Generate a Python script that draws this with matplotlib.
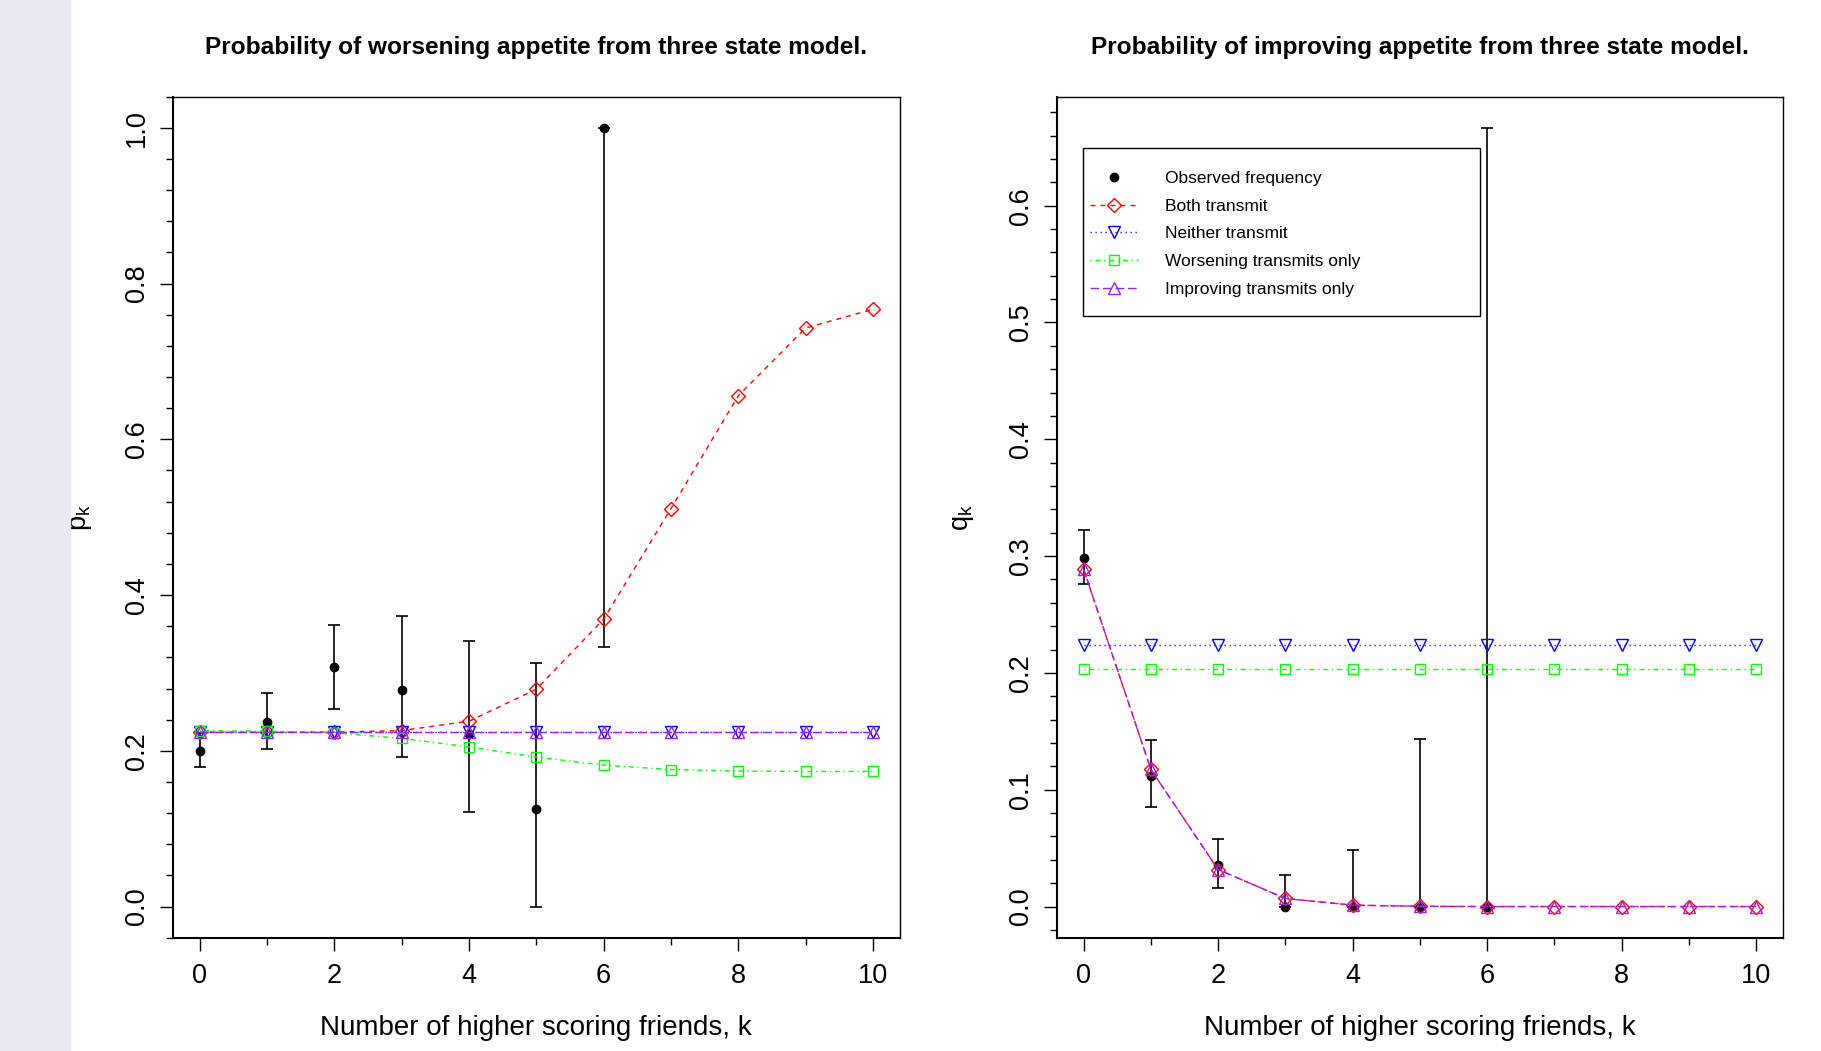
import matplotlib
matplotlib.use('Agg')
import matplotlib.pyplot as plt
import numpy as np
from matplotlib.patches import Rectangle
from matplotlib.ticker import MultipleLocator, FormatStrFormatter

plt.rcParams['font.family'] = ['Liberation Sans', 'DejaVu Sans']
plt.rcParams['mathtext.fontset'] = 'custom'
plt.rcParams['mathtext.rm'] = 'Liberation Sans'

# number of higher scoring friends
k_all = np.arange(0, 11)
k_obs = np.arange(0, 7)

# worsening appetite (left panel)
p_obs = [0.200, 0.2375, 0.307, 0.278, 0.222, 0.125, 1.000]
p_lo = [0.179, 0.202, 0.254, 0.192, 0.121, 0.0, 0.333]
p_hi = [0.223, 0.274, 0.361, 0.373, 0.341, 0.313, 1.000]
p_both = [0.224, 0.224, 0.224, 0.226, 0.238, 0.279, 0.369, 0.511, 0.656, 0.743, 0.767]
p_neither = [0.2245] * 11
p_worse = [0.226, 0.225, 0.223, 0.216, 0.205, 0.192, 0.1816, 0.176, 0.174, 0.1735, 0.1735]
p_improve = [0.2245] * 11

# improving appetite (right panel)
q_obs = [0.2985, 0.1117, 0.0354, 0.0, 0.0, 0.0, 0.0]
q_lo = [0.276, 0.0848, 0.0157, 0.0, 0.0, 0.0, 0.0]
q_hi = [0.3225, 0.1425, 0.0577, 0.0266, 0.0488, 0.1437, 0.6667]
q_both = [0.2888, 0.1174, 0.0317, 0.0069, 0.0012, 0.0002, 0.0, 0.0, 0.0, 0.0, 0.0]
q_neither = [0.2239] * 11
q_worse = [0.2037] * 11
q_improve = [0.2888, 0.1174, 0.0317, 0.0069, 0.0012, 0.0002, 0.0, 0.0, 0.0, 0.0, 0.0]

labels = ['Observed frequency', 'Both transmit', 'Neither transmit',
          'Worsening transmits only', 'Improving transmits only']

TICK_FS = 19.5
LABEL_FS = 20
TITLE_FS = 17.6


def draw_panel(ax, obs, lo, hi, both, neither, worse, improve):
    """
    Draws observed frequencies with error bars and the four model curves.
    """
    obs = np.array(obs)
    err = [obs - np.array(lo), np.array(hi) - obs]
    ax.errorbar(k_obs, obs, yerr=err, fmt='none', ecolor='black',
                elinewidth=1.2, capsize=4.2, capthick=1.2, zorder=2)
    h = []
    h += ax.plot(k_obs, obs, 'o', color='black', ms=6, ls='none', zorder=3)
    h += ax.plot(k_all, both, color='red', ls=(0, (3.6, 3.6)), lw=1,
                 marker='D', ms=7.3, mfc='none', mec='red', mew=1, zorder=4)
    h += ax.plot(k_all, neither, color='blue', ls=(0, (0.9, 2.7)), lw=1,
                 marker='v', ms=8.6, mfc='none', mec='blue', mew=1, zorder=5)
    h += ax.plot(k_all, worse, color='#00FF00', ls=(0, (0.9, 2.7, 3.6, 2.7)), lw=1,
                 marker='s', ms=7, mfc='none', mec='#00FF00', mew=1, zorder=6)
    h += ax.plot(k_all, improve, color='#A020F0', ls=(0, (6.3, 2.7)), lw=1,
                 marker='^', ms=8.6, mfc='none', mec='#A020F0', mew=1, zorder=7)
    return h


def style_axes(ax, ylim, ymajor, yminor, ylabel, title, ylabel_x):
    """
    R-like box, outward ticks and rotated y tick labels.
    """
    ax.set_xlim(-0.4, 10.4)
    ax.set_ylim(*ylim)
    ax.xaxis.set_major_locator(MultipleLocator(2))
    ax.xaxis.set_minor_locator(MultipleLocator(1))
    ax.yaxis.set_major_locator(MultipleLocator(ymajor))
    ax.yaxis.set_minor_locator(MultipleLocator(yminor))
    ax.yaxis.set_major_formatter(FormatStrFormatter('%.1f'))
    ax.tick_params(which='major', direction='out', length=9.4, width=1, labelsize=TICK_FS)
    ax.tick_params(which='minor', direction='out', length=4.7, width=1)
    ax.tick_params(axis='x', which='major', pad=9)
    ax.tick_params(axis='y', which='major', pad=7, labelrotation=90)
    for lab in ax.get_yticklabels():
        lab.set_va('center')
    for side in ['top', 'right']:
        ax.spines[side].set_linewidth(1.0)
    for side in ['left', 'bottom']:
        ax.spines[side].set_linewidth(1.5)
    ax.set_xlabel('Number of higher scoring friends, k', fontsize=LABEL_FS)
    ax.xaxis.set_label_coords(0.5, -0.092)
    ax.set_ylabel(ylabel, fontsize=TICK_FS)
    ax.yaxis.set_label_coords(ylabel_x, 0.5)
    ax.set_title(title, fontsize=TITLE_FS, fontweight='bold', y=1.0508, pad=0)


fig = plt.figure(figsize=(18.21, 10.51), dpi=100)
fig.patches.append(Rectangle((0, 0), 70 / 1821, 1, transform=fig.transFigure,
                             color='#EAEAF2', zorder=0))

ax1 = fig.add_axes([0.0948, 0.1078, 0.3994, 0.8002])
ax2 = fig.add_axes([0.5803, 0.1078, 0.3988, 0.8002])

draw_panel(ax1, p_obs, p_lo, p_hi, p_both, p_neither, p_worse, p_improve)
style_axes(ax1, (-0.04, 1.04), 0.2, 0.04, r'$\mathregular{p_k}$',
           'Probability of worsening appetite from three state model.', -0.108)

handles = draw_panel(ax2, q_obs, q_lo, q_hi, q_both, q_neither, q_worse, q_improve)
style_axes(ax2, (-0.02667, 0.6933), 0.1, 0.02, r'$\mathregular{q_k}$',
           'Probability of improving appetite from three state model.', -0.111)

# legend frame drawn separately so the padding matches the original
ax2.add_patch(Rectangle((0.0366, 0.7396), 0.5463, 0.199, transform=ax2.transAxes,
                        fill=False, edgecolor='black', lw=1.0, zorder=8))
ax2.legend(handles, labels, loc='upper left', bbox_to_anchor=(0.0458, 0.9116),
           frameon=False, borderpad=0, borderaxespad=0, handlelength=2.77,
           handletextpad=1.56, labelspacing=0.72, fontsize=12.5, numpoints=1)

fig.savefig('out.png', dpi=100)
